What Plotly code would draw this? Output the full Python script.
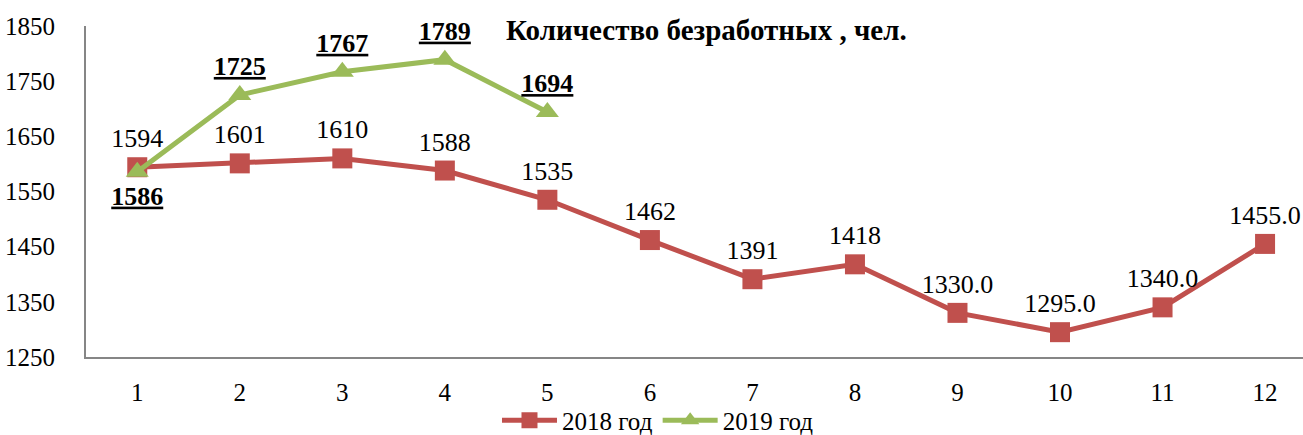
import plotly.graph_objects as go

months = [1, 2, 3, 4, 5, 6, 7, 8, 9, 10, 11, 12]
values_2018 = [1594, 1601, 1610, 1588, 1535, 1462, 1391, 1418, 1330, 1295, 1340, 1455]
labels_2018 = ["1594", "1601", "1610", "1588", "1535", "1462", "1391", "1418",
               "1330.0", "1295.0", "1340.0", "1455.0"]
months_2019 = [1, 2, 3, 4, 5]
values_2019 = [1586, 1725, 1767, 1789, 1694]
labels_2019 = ["1586", "1725", "1767", "1789", "1694"]
y_ticks = [1250, 1350, 1450, 1550, 1650, 1750, 1850]

FONT = "Liberation Serif, Times New Roman, serif"
RED = "#C0504D"
GREEN = "#9BBB59"

fig = go.Figure()
fig.add_trace(go.Scatter(
    x=months, y=values_2018, name="2018 год",
    mode="lines+markers+text",
    line=dict(color=RED, width=5),
    marker=dict(symbol="square", size=20, color=RED),
    text=labels_2018, textposition="top center",
    textfont=dict(family=FONT, size=26, color="#000000"),
    cliponaxis=False,
))
fig.add_trace(go.Scatter(
    x=months_2019, y=values_2019, name="2019 год",
    mode="lines+markers+text",
    line=dict(color=GREEN, width=5),
    marker=dict(symbol="triangle-up", size=20, color=GREEN),
    text=["<b><u>%s</u></b>" % t for t in labels_2019],
    textposition=["bottom center"] + ["top center"] * 4,
    textfont=dict(family=FONT, size=26, color="#000000"),
    cliponaxis=False,
))

fig.update_layout(
    width=1303, height=435,
    margin=dict(l=86, r=0, t=26, b=78, autoexpand=False),
    paper_bgcolor="white", plot_bgcolor="white",
    font=dict(family=FONT, size=25, color="#000000"),
    showlegend=True,
    legend=dict(orientation="h", x=0.47, xanchor="center", y=-0.122, yanchor="top",
                font=dict(family=FONT, size=25), itemwidth=55,
                tracegroupgap=0, bgcolor="rgba(0,0,0,0)"),
    annotations=[dict(
        text="<b>Количество безработных , чел.</b>",
        xref="paper", yref="paper", x=0.51, y=0.988, xanchor="center", yanchor="middle",
        showarrow=False, font=dict(family=FONT, size=29, color="#000000"),
    )],
)
fig.update_xaxes(
    range=[0.5, 12.37], tickmode="array", tickvals=months,
    ticktext=[str(m) for m in months],
    showgrid=False, zeroline=False, showline=True, linecolor="#868686", linewidth=2,
    ticks="", ticklabelstandoff=12, tickfont=dict(family=FONT, size=25),
)
fig.update_yaxes(
    range=[1250, 1850], tickmode="array", tickvals=y_ticks,
    showgrid=False, zeroline=False, showline=True, linecolor="#868686", linewidth=2,
    ticks="", ticklabelstandoff=24, tickfont=dict(family=FONT, size=25),
)

fig.write_html("out.html", config={"displayModeBar": False},
               post_script="document.body.style.margin='0';document.body.style.overflow='hidden';")
